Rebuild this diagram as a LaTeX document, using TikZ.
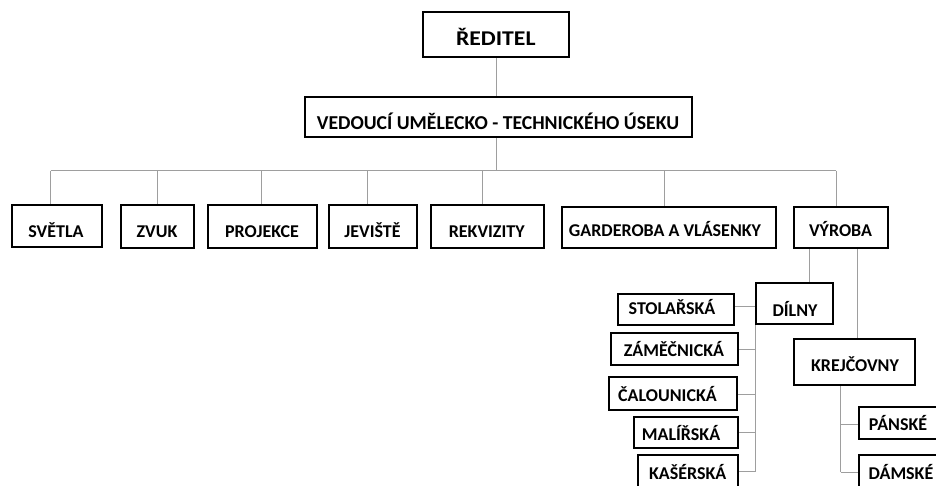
\documentclass[tikz,border=0pt]{standalone}
\usepackage{fontspec}
\setmainfont{Carlito}
\tikzset{
  box/.style={draw=black, line width=1.2pt, fill=white, inner sep=0pt},
  txt/.style={font=\fontsize{18}{21}\selectfont\bfseries, inner sep=0pt, anchor=base},
  midtxt/.style={txt, font=\fontsize{19.7}{22}\selectfont\bfseries},
  bigtxt/.style={txt, font=\fontsize{21}{24}\selectfont\bfseries, xscale=1.13, transform shape},
  conn/.style={draw=black!38, line width=1pt},
}
\newcommand{\obox}[9][txt]{%
  \node[box, minimum width={(#5-#3)*1pt}, minimum height={(#6-#4)*1pt}] (#2) at ({(#3+#5)/2},{(#4+#6)/2}) {};
  \node[#1] (#2-t) at (#7,#8) {#9};
}
\begin{document}
\begin{tikzpicture}[x=1pt,y=-1pt]
\useasboundingbox (0,0) rectangle (936,485);
\clip (0,0) rectangle (936,485);
% junction coordinates
\coordinate (top) at (496.7,57);
\coordinate (busL) at (50.7,170.7);
\coordinate (busR) at (836,170.7);
\coordinate (busM) at (496.7,170.7);
\foreach \n/\x in {d1/50.7,d2/157.7,d3/261,d4/367.3,d5/482,d6/664.7,d7/836}
  \coordinate (\n) at (\x,170.7);
\coordinate (vy1) at (809,248);
\coordinate (vy2) at (857.3,248);
\coordinate (sp1) at (755,324);
\coordinate (sp2) at (840.7,385);
% connectors
\draw[conn] (top) -- (top |- 0,97);
\draw[conn] (top |- 0,137) -- (busM);
\draw[conn] (busL) -- (busR);
\foreach \n in {d1,d2,d3,d4,d5,d6,d7}
  \draw[conn] (\n) -- (\n |- 0,207);
\draw[conn] (vy1) -- (vy1 |- 0,283);
\draw[conn] (vy2) -- (vy2 |- 0,339);
\draw[conn] (734,306.7) -- (756,306.7);
\draw[conn] (sp1) -- (755,471.7);
\foreach \y/\xr in {349.3/738,394.3/737,432.3/738,471.7/738}
  \draw[conn] (755,\y) -- (\xr,\y);
\draw[conn] (sp2) -- (840.7,472.3);
\foreach \y in {424,472}
  \draw[conn] (840.7,\y) -- (859,\y);
% boxes
\obox[bigtxt]{reditel}{423}{12}{569}{57}{495.8}{45.3}{ŘEDITEL}
\obox[midtxt]{vedouci}{305}{97}{692}{137}{498}{129.5}{VEDOUCÍ UMĚLECKO - TECHNICKÉHO ÚSEKU}
\obox{svetla}{12}{205}{102}{247}{56}{237.5}{SVĚTLA}
\obox{zvuk}{121}{205}{194}{248}{157}{237.5}{ZVUK}
\obox{projekce}{208}{205}{317}{248}{262}{237.5}{PROJEKCE}
\obox{jeviste}{329}{205}{417}{248}{372.5}{237.5}{JEVIŠTĚ}
\obox{rekvizity}{431}{205}{544}{248}{486.7}{237.5}{REKVIZITY}
\obox{garderoba}{562}{207}{776}{248}{665}{236.5}{GARDEROBA A VLÁSENKY}
\obox{vyroba}{794}{207}{888}{248}{840.5}{236.5}{VÝROBA}
\obox{dilny}{756}{283}{833}{324}{795}{316}{DÍLNY}
\obox{stolarska}{618}{294}{734}{325}{672}{314}{STOLAŘSKÁ}
\obox{zamecnicka}{611}{333}{738}{365}{674}{356}{ZÁMĚČNICKÁ}
\obox{calounicka}{609}{377}{737}{410}{667.5}{401.7}{ČALOUNICKÁ}
\obox{malirska}{634}{417}{738}{448}{681}{440}{MALÍŘSKÁ}
\obox{kaserska}{638}{455}{738}{495}{687.7}{479.3}{KAŠÉRSKÁ}
\obox{krejcovny}{794}{339}{915}{385}{855}{371}{KREJČOVNY}
\obox{panske}{859}{407}{950}{439}{898}{430}{PÁNSKÉ}
\obox{damske}{859}{455}{950}{495}{901}{479}{DÁMSKÉ}
\end{tikzpicture}
\end{document}
